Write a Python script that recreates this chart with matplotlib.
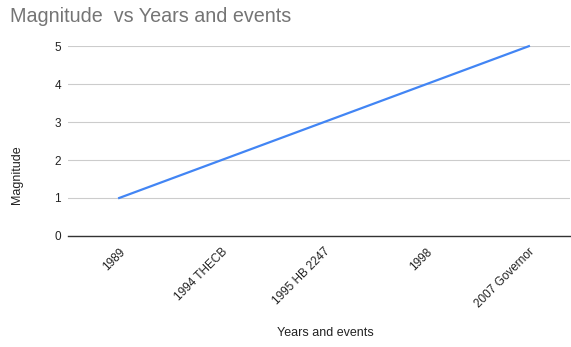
import matplotlib.pyplot as plt

# data
events = ['1989', '1994 THECB', '1995 HB 2247', '1998', '2007 Governor']
magnitude = [1, 2, 3, 4, 5]

plt.rcParams['font.family'] = ['Liberation Sans', 'DejaVu Sans']

fig = plt.figure(figsize=(5.71, 3.47), dpi=100)
ax = fig.add_axes([0.119, 0.320, 0.879, 0.547])

x = list(range(len(events)))
ax.plot(x, magnitude, color='#4285F4', linewidth=1.6, clip_on=False, zorder=3)

ax.set_xlim(-0.5, 4.4)
ax.set_ylim(0, 5)
ax.set_yticks(range(0, 6))
ax.set_xticks(x)
ax.set_xticklabels(events, rotation=45, ha='right', rotation_mode='anchor')

ax.grid(axis='y', color='#cccccc', linewidth=0.8)
ax.set_axisbelow(True)
for s in ['top', 'right', 'left']:
    ax.spines[s].set_visible(False)
ax.spines['bottom'].set_color('#333333')
ax.spines['bottom'].set_linewidth(1.0)
ax.tick_params(length=0, labelsize=8.5, colors='#222222')
ax.tick_params(axis='x', pad=7)
ax.tick_params(axis='y', pad=5)

fig.text(0.569, 0.040, 'Years and events', fontsize=9, color='#222222',
         ha='center', va='center')
fig.text(0.030, 0.496, 'Magnitude', fontsize=9, color='#222222',
         rotation=90, ha='center', va='center')

fig.text(0.0175, 0.937, 'Magnitude  vs Years and events', fontsize=14.2,
         color='#757575', ha='left', va='baseline')

fig.savefig('out.png', dpi=100)
